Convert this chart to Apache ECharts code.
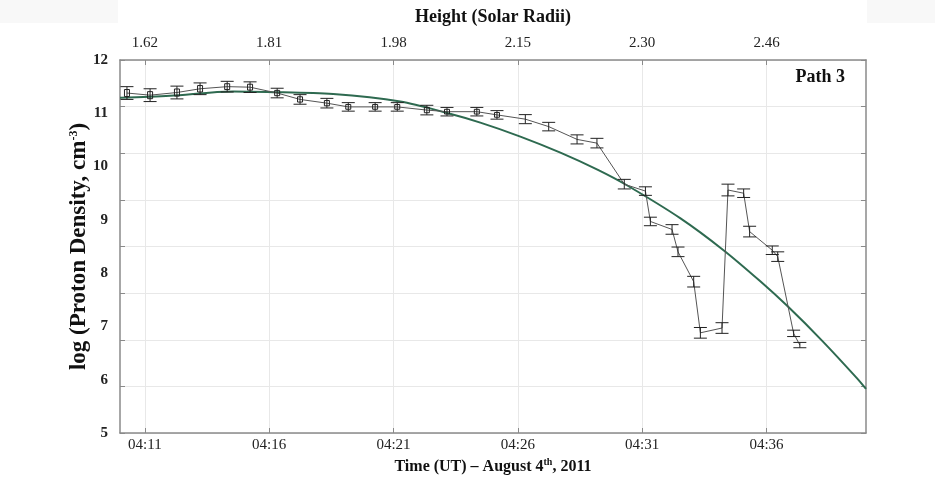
<!DOCTYPE html>
<html>
<head>
<meta charset="utf-8">
<script src="https://cdn.jsdelivr.net/npm/echarts@6/dist/echarts.min.js"></script>
<style>
  html, body { margin: 0; padding: 0; background: #ffffff; }
  #chart { width: 935px; height: 478px; }
</style>
</head>
<body>
<div id="chart"></div>
<script>
// Observations: time in minutes after 04:00 UT, log proton density and its uncertainty
const obsMinutes = [10.28, 11.21, 12.29, 13.22, 14.31, 15.23, 16.32, 17.24, 18.32, 19.18,
                    20.26, 21.15, 22.34, 23.15, 24.35, 25.16, 26.30, 27.24, 28.38, 29.18,
                    30.28, 31.13, 31.33, 32.20, 32.44, 33.07, 33.34, 34.21, 34.45, 35.08,
                    35.32, 36.23, 36.45, 37.09, 37.34];
const obsLogDensity = [11.38, 11.34, 11.39, 11.46, 11.50, 11.49, 11.38, 11.26, 11.19, 11.12,
                       11.12, 11.12, 11.06, 11.03, 11.03, 10.97, 10.89, 10.75, 10.51, 10.44,
                       9.67, 9.54, 8.97, 8.82, 8.40, 7.84, 6.88, 6.97, 9.56, 9.50,
                       8.78, 8.43, 8.31, 6.87, 6.65];
const obsError = [0.12, 0.12, 0.12, 0.11, 0.10, 0.10, 0.09, 0.09, 0.09, 0.08,
                  0.08, 0.08, 0.09, 0.08, 0.08, 0.08, 0.085, 0.08, 0.085, 0.09,
                  0.09, 0.08, 0.08, 0.09, 0.09, 0.10, 0.10, 0.10, 0.11, 0.08,
                  0.10, 0.08, 0.09, 0.06, 0.05];

// Fitted density profile
const fitMinutes = [10.0, 12.01, 14.55, 15.92, 18.57, 21.27, 23.16, 24.49, 26.10, 27.71,
                    29.20, 30.40, 32.54, 34.27, 35.75, 36.84, 38.25, 39.66, 40.0];
const fitLogDensity = [11.29, 11.33, 11.41, 11.40, 11.36, 11.22, 11.005, 10.825, 10.563, 10.262,
                       9.943, 9.645, 9.028, 8.431, 7.847, 7.382, 6.725, 6.016, 5.826];

// Axis tick labels
const timeTickLabels = ['04:11', '04:16', '04:21', '04:26', '04:31', '04:36'];
const heightTickLabels = ['1.62', '1.81', '1.98', '2.15', '2.30', '2.46'];

const tickMinutes = timeTickLabels.map(s => {
  const p = s.split(':');
  return (Number(p[0]) - 4) * 60 + Number(p[1]);
});

const serif = '"Liberation Serif", "DejaVu Serif", serif';
const frameColor = '#8a8a8a';
const gridColor = '#e8e8e8';

const chart = echarts.init(document.getElementById('chart'), null, { renderer: 'canvas' });

const option = {
  backgroundColor: '#ffffff',
  animation: false,
  grid: { left: 120, right: 69, top: 60, bottom: 45, containLabel: false, outerBoundsMode: 'none' },
  graphic: [
    { type: 'rect', shape: { x: 0, y: 0, width: 118, height: 23 }, style: { fill: '#f8f8f8' }, z: -10 },
    { type: 'rect', shape: { x: 867, y: 0, width: 68, height: 23 }, style: { fill: '#f8f8f8' }, z: -10 },
    {
      type: 'text', right: 90, top: 68, z: 50,
      style: { text: 'Path 3', font: 'bold 18px ' + serif, fill: '#111' }
    }
  ],
  xAxis: [
    {
      type: 'value', position: 'bottom', min: 10, max: 40,
      axisLine: { show: true, onZero: false, lineStyle: { color: frameColor, width: 1.5 } },
      axisTick: { show: true, inside: true, length: 5, customValues: tickMinutes, lineStyle: { color: frameColor } },
      splitLine: { show: true, lineStyle: { color: gridColor, width: 1 } },
      axisLabel: {
        customValues: tickMinutes, margin: 5,
        formatter: (v) => timeTickLabels[tickMinutes.indexOf(v)],
        fontFamily: serif, fontSize: 15, color: '#222'
      },
      name: '{a|Time (UT) – August 4}{sup|th}{a|, 2011}',
      nameLocation: 'middle', nameGap: 21,
      nameTextStyle: {
        rich: {
          a: { fontFamily: serif, fontSize: 16, fontWeight: 'bold', color: '#111' },
          sup: { fontFamily: serif, fontSize: 10, fontWeight: 'bold', color: '#111', verticalAlign: 'top', padding: [0, 0, 8, 0] }
        }
      }
    },
    {
      type: 'value', position: 'top', min: 10, max: 40,
      axisLine: { show: true, onZero: false, lineStyle: { color: frameColor, width: 1.5 } },
      axisTick: { show: true, inside: true, length: 5, customValues: tickMinutes, lineStyle: { color: frameColor } },
      splitLine: { show: false },
      axisLabel: {
        customValues: tickMinutes, margin: 9,
        formatter: (v) => heightTickLabels[tickMinutes.indexOf(v)],
        fontFamily: serif, fontSize: 15, color: '#222'
      },
      name: 'Height (Solar Radii)',
      nameLocation: 'middle', nameGap: 34,
      nameTextStyle: { fontFamily: serif, fontSize: 18, fontWeight: 'bold', color: '#111' }
    }
  ],
  yAxis: [
    {
      // labelled density scale used by the data
      type: 'value', position: 'left', min: 5, max: 12, interval: 1,
      axisLine: { show: true, lineStyle: { color: frameColor, width: 1.5 } },
      axisTick: { show: false },
      splitLine: { show: false },
      axisLabel: { margin: 12, fontFamily: serif, fontSize: 15, fontWeight: 'bold', color: '#222' },
      name: '{a|log (Proton Density, cm}{sup|-3}{a|)}',
      nameLocation: 'middle', nameGap: 29, nameRotate: 90, nameMoveOverlap: false,
      nameTextStyle: {
        rich: {
          a: { fontFamily: serif, fontSize: 23, fontWeight: 'bold', color: '#111' },
          sup: { fontFamily: serif, fontSize: 12, fontWeight: 'bold', color: '#111', verticalAlign: 'top', padding: [0, 0, 10, 0] }
        }
      }
    },
    {
      // frame ticks and horizontal grid
      type: 'value', position: 'right', min: 0, max: 8, interval: 1,
      axisLine: { show: true, lineStyle: { color: frameColor, width: 1.5 } },
      axisTick: { show: true, inside: true, length: 5, lineStyle: { color: frameColor } },
      splitLine: { show: true, lineStyle: { color: gridColor, width: 1 } },
      axisLabel: { show: false }
    },
    {
      type: 'value', position: 'left', min: 0, max: 8, interval: 1,
      axisLine: { show: false },
      axisTick: { show: true, inside: true, length: 5, lineStyle: { color: frameColor } },
      splitLine: { show: false },
      axisLabel: { show: false }
    }
  ],
  series: [
    {
      name: 'fit', type: 'line', xAxisIndex: 0, yAxisIndex: 0,
      data: fitMinutes.map((m, i) => [m, fitLogDensity[i]]),
      smooth: 0.3, symbol: 'none',
      lineStyle: { color: '#2e6a50', width: 2 }, z: 3
    },
    {
      name: 'observed', type: 'line', xAxisIndex: 0, yAxisIndex: 0,
      data: obsMinutes.map((m, i) => [m, obsLogDensity[i]]),
      symbol: 'none',
      lineStyle: { color: '#555', width: 1 }, z: 4
    },
    {
      name: 'error', type: 'custom', xAxisIndex: 0, yAxisIndex: 0,
      data: obsMinutes.map((m, i) => [m, obsLogDensity[i], obsError[i]]),
      renderItem: (params, api) => {
        const x = api.value(0), y = api.value(1), e = api.value(2);
        const top = api.coord([x, y + e]);
        const bot = api.coord([x, y - e]);
        const mid = api.coord([x, y]);
        const hw = 6.5;
        const st = { stroke: '#222', lineWidth: 1 };
        const children = [
          { type: 'line', shape: { x1: top[0], y1: top[1], x2: bot[0], y2: bot[1] }, style: st },
          { type: 'line', shape: { x1: top[0] - hw, y1: top[1], x2: top[0] + hw, y2: top[1] }, style: st },
          { type: 'line', shape: { x1: bot[0] - hw, y1: bot[1], x2: bot[0] + hw, y2: bot[1] }, style: st }
        ];
        // the slow early samples carry a small box marker
        if (params.dataIndex < 16) {
          const h = (bot[1] - top[1]) * 0.55;
          children.push({
            type: 'rect',
            shape: { x: mid[0] - 2.5, y: mid[1] - h / 2, width: 5, height: h },
            style: { stroke: '#222', fill: 'none', lineWidth: 1 }
          });
        }
        return { type: 'group', children };
      },
      z: 5
    }
  ]
};

chart.setOption(option);
</script>
</body>
</html>
